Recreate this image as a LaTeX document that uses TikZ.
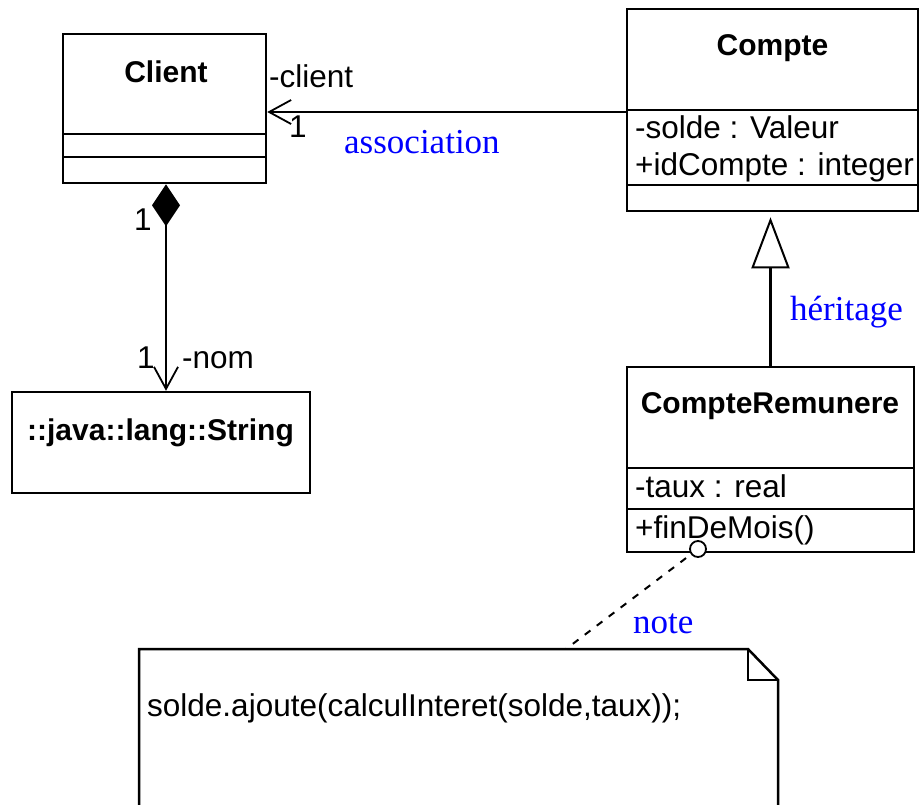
\documentclass[tikz,border=0pt]{standalone}
\usepackage{fontspec}
\setmainfont{Liberation Sans}
\newfontfamily\lblfont{Liberation Serif}
\usetikzlibrary{arrows.meta}
\begin{document}
\begin{tikzpicture}[x=1pt,y=-1pt,
  box/.style={draw, line width=2.5pt, rectangle, inner sep=0pt},
  umltxt/.style={inner sep=0pt, font=\fontsize{31.5}{36}\selectfont},
  umlbold/.style={inner sep=0pt, font=\fontsize{30}{36}\selectfont\bfseries},
  lbl/.style={inner sep=0pt, text=blue, font=\lblfont\fontsize{35}{40}\selectfont},
  conn/.style={line width=2.2pt},
  sep/.style={line width=2.3pt},
  openarrow/.style={-{Straight Barb[length=22pt,width=24pt,line width=1.8pt]}}
]
\useasboundingbox (0,0) rectangle (921,804);

% Client
\node[box, minimum width=203pt, minimum height=149pt] (client) at (164.5,108.5) {};
\node[umlbold, anchor=base] (clientname) at (166,82) {Client};
\draw[sep] (63,134) -- (266,134);
\draw[sep] (63,157) -- (266,157);

% Compte
\node[box, minimum width=291pt, minimum height=202pt] (compte) at (772.5,110) {};
\node[umlbold, anchor=base] (comptename) at (772.5,55) {Compte};
\draw[sep] (627,110) -- (918,110);
\draw[sep] (627,185) -- (918,185);
\node[umltxt, anchor=base west] (solde) at (635,138) {-solde : Valeur};
\node[umltxt, anchor=base west] (idcompte) at (635,175) {+idCompte : integer};

% CompteRemunere
\node[box, minimum width=287pt, minimum height=185pt] (cr) at (770.5,459.5) {};
\node[umlbold, anchor=base] (crname) at (770,413) {CompteRemunere};
\draw[sep] (627,468) -- (914,468);
\draw[sep] (627,509) -- (914,509);
\node[umltxt, anchor=base west] (taux) at (635,497) {-taux : real};
\node[umltxt, anchor=base west] (findemois) at (635,538) {+finDeMois()};

% String
\node[box, minimum width=298pt, minimum height=101pt] (string) at (161,442.5) {};
\node[umlbold, anchor=base] (stringname) at (160.5,440) {::java::lang::String};

% Association
\draw[conn, openarrow] (compte.west |- 0,112) -- (client.east |- 0,112);
\node[umltxt, anchor=base west] (clientrole) at (269,87) {-client};
\node[umltxt, anchor=base] (clientmult) at (298,137) {1};
\node[lbl, anchor=base west] (assoc) at (344,153) {association};

% Composition
\draw[conn, {Diamond[length=42pt,width=28pt]}-{Straight Barb[length=22pt,width=24pt,line width=1.8pt]}] (client.south -| 166,0) -- (string.north -| 166,0);
\node[umltxt, anchor=base] (compmult1) at (143,230) {1};
\node[umltxt, anchor=base] (compmult2) at (146,368) {1};
\node[umltxt, anchor=base west] (nomrole) at (182,368) {-nom};

% Inheritance
\draw[conn, -{Triangle[open, length=51pt, width=38pt, line width=2pt]}, shorten >=5pt] (cr.north) -- (cr.north |- compte.south);
\node[lbl, anchor=base west] (heritage) at (790,320) {héritage};

% Note
\coordinate (notept) at (566,649);
\draw[line width=2pt, dash pattern=on 7pt off 8pt] (698,549) -- (notept);
\node[draw, circle, line width=1.8pt, fill=white, minimum size=16pt, inner sep=0pt] (anchorpt) at (698,549) {};
\draw[line width=2.5pt] (139,815) -- (139,649) -- (748,649) -- (778,680) -- (778,815);
\draw[line width=2.3pt] (748,649) -- (748,680) -- (778,680);
\node[umltxt, anchor=base west] (notetext) at (147,716) {solde.ajoute(calculInteret(solde,taux));};
\node[lbl, anchor=base west] (notelbl) at (633,633) {note};
\end{tikzpicture}
\end{document}
